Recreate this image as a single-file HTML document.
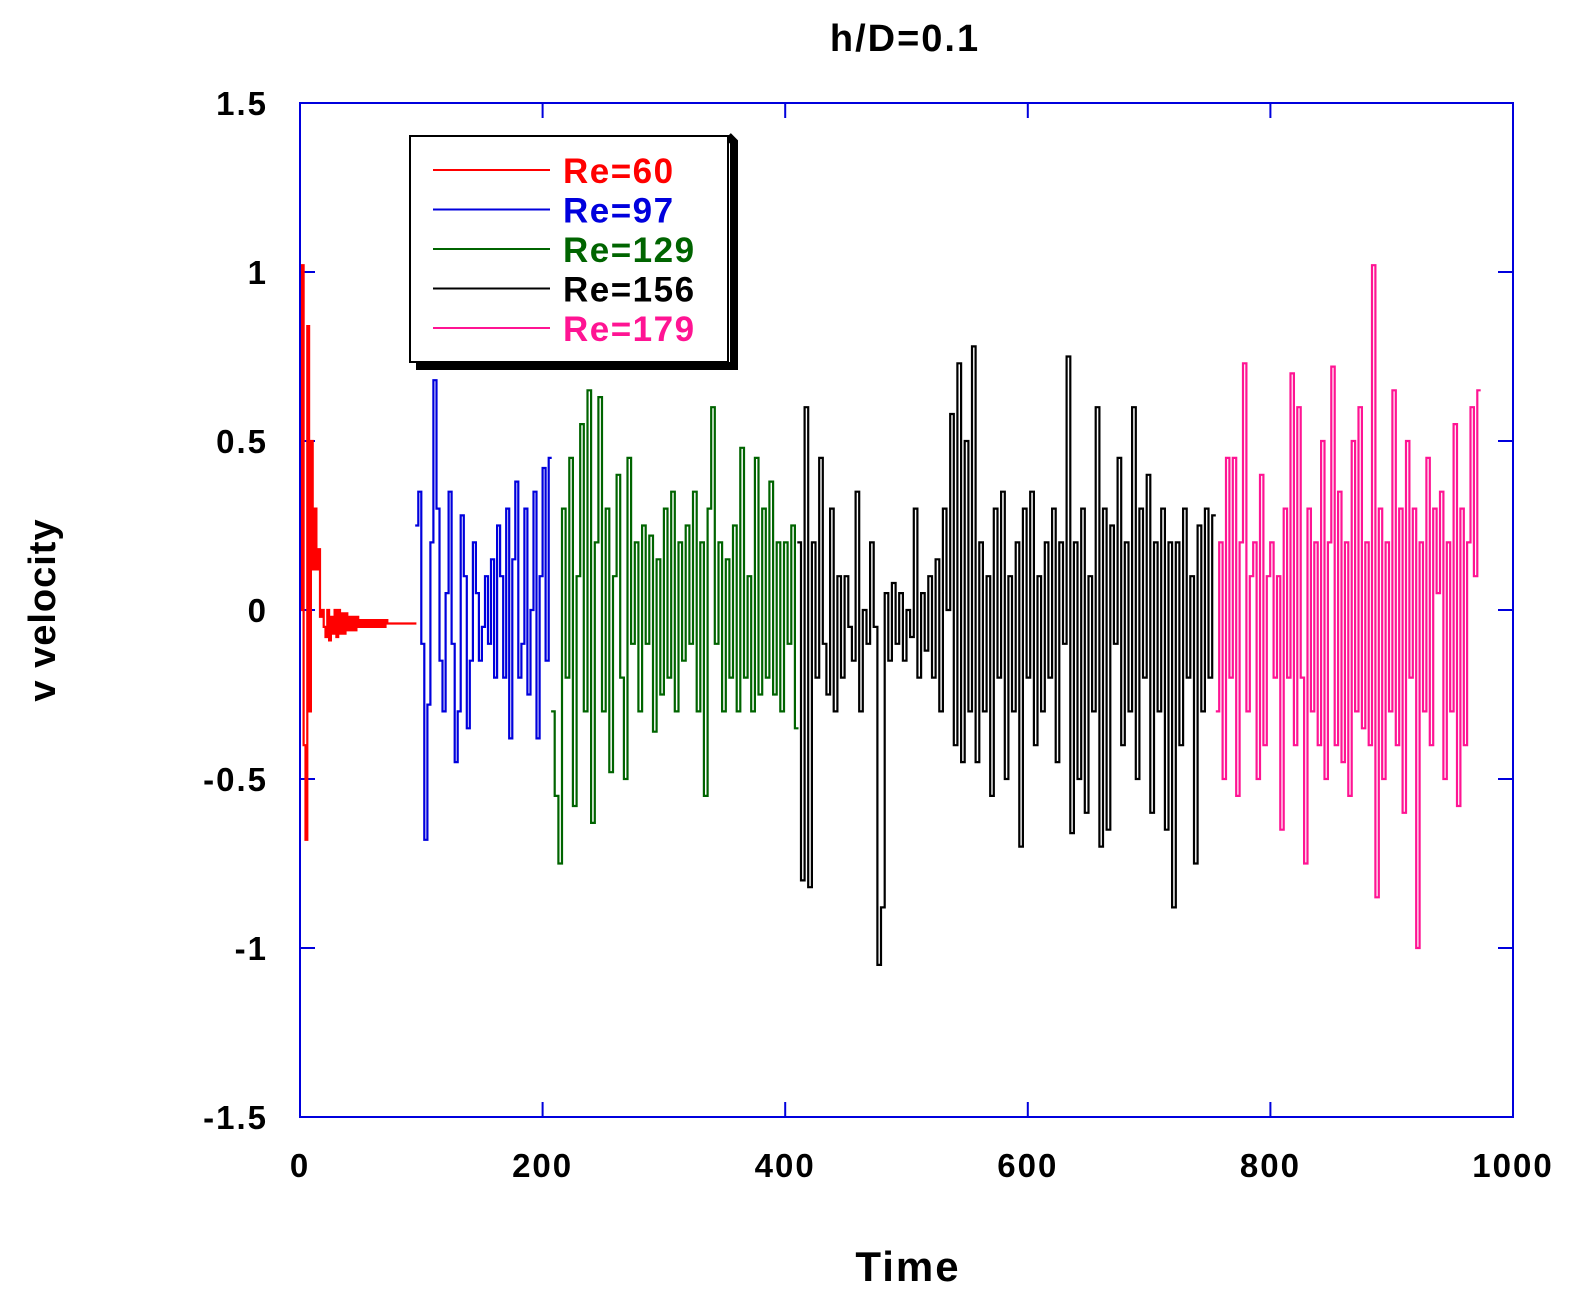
<!DOCTYPE html>
<html><head><meta charset="utf-8"><style>
html,body{margin:0;background:#fff;overflow:hidden;width:1574px;height:1309px;}
svg{display:block;font-family:"Liberation Sans",Arial,sans-serif;font-weight:bold;}
</style></head><body>
<svg id="chart" width="1574" height="1309" viewBox="0 0 1574 1309">
<text x="905" y="51" font-size="38" letter-spacing="2" text-anchor="middle">h/D=0.1</text>
<text x="908" y="1281" font-size="42" letter-spacing="2" text-anchor="middle">Time</text>
<text transform="translate(55,610) rotate(-90)" font-size="38" letter-spacing="1" text-anchor="middle">v velocity</text>
<g id="ticks"></g>
<g id="series"></g>
<rect x="300" y="103" width="1213" height="1014" fill="none" stroke="#0000dd" stroke-width="2"/>
<g id="legend">
<path d="M416 366 L734 366 L734 142 L728 136" fill="none" stroke="#000" stroke-width="8"/>
<rect x="410" y="136" width="318" height="226" fill="#fff" stroke="#000" stroke-width="2"/>
</g>
</svg>
<script>
const xTicks=[0,200,400,600,800,1000];
const yTicks=[-1.5,-1,-0.5,0,0.5,1,1.5];
const seriesNames=["Re=60","Re=97","Re=129","Re=156","Re=179"];
const seriesColors=["#ff0000","#0000dd","#006400","#000000","#ff1493"];
const seriesStart=[0,95,207,410,755];
const seriesStep=[1.5,2.5,3,3,2.8];
const red=[0,1.02,-0.4,-0.68,0.84,-0.3,0.5,0.12,0.3,0.12,0.18,-0.02,0.0,-0.05,-0.08,0.0,-0.09,-0.02,-0.07,0.0,-0.08,0.0,-0.07,-0.01,-0.07,-0.01,-0.06,-0.02,-0.06,-0.02,-0.06,-0.02,-0.05,-0.03,-0.05,-0.03,-0.05,-0.03,-0.05,-0.03,-0.05,-0.03,-0.05,-0.03,-0.05,-0.03,-0.05,-0.03,-0.04,-0.04,-0.04,-0.04,-0.04,-0.04,-0.04,-0.04,-0.04,-0.04,-0.04,-0.04,-0.04,-0.04,-0.04,-0.04];
const blue=[0.25,0.35,-0.1,-0.68,-0.28,0.2,0.68,0.3,-0.15,-0.3,0.05,0.35,-0.1,-0.45,-0.3,0.28,0.1,-0.35,-0.15,0.2,0.05,-0.15,-0.05,0.1,-0.1,0.15,-0.2,0.25,0.1,-0.2,0.3,-0.38,0.15,0.38,-0.2,-0.1,0.3,-0.25,0.0,0.35,-0.38,0.1,0.42,-0.15,0.45];
const green=[-0.3,-0.55,-0.75,0.3,-0.2,0.45,-0.58,0.1,0.55,-0.3,0.65,-0.63,0.2,0.63,-0.3,0.3,-0.48,0.1,0.4,-0.2,-0.5,0.45,-0.1,0.2,-0.3,0.25,-0.1,0.22,-0.36,0.15,-0.25,0.3,-0.2,0.35,-0.3,0.2,-0.15,0.25,-0.1,0.35,-0.3,0.2,-0.55,0.3,0.6,-0.1,0.2,-0.3,0.15,-0.2,0.25,-0.3,0.48,-0.2,0.1,-0.3,0.45,-0.25,0.3,-0.2,0.38,-0.25,0.2,-0.3,0.2,-0.1,0.25,-0.35];
const black=[0.2,-0.8,0.6,-0.82,0.2,-0.2,0.45,-0.1,-0.25,0.3,-0.3,0.1,-0.2,0.1,-0.05,-0.15,0.35,-0.3,0.0,-0.1,0.2,-0.05,-1.05,-0.88,0.05,-0.15,0.08,-0.1,0.05,-0.15,0.0,-0.08,0.3,-0.2,0.05,-0.12,0.1,-0.2,0.15,-0.3,0.3,0.0,0.58,-0.4,0.73,-0.45,0.5,-0.3,0.78,-0.45,0.2,-0.3,0.1,-0.55,0.3,-0.2,0.35,-0.5,0.1,-0.3,0.2,-0.7,0.3,-0.2,0.35,-0.4,0.1,-0.3,0.2,-0.2,0.3,-0.45,0.2,-0.1,0.75,-0.66,0.2,-0.5,0.3,-0.6,0.1,-0.3,0.6,-0.7,0.3,-0.65,0.25,-0.1,0.45,-0.4,0.2,-0.3,0.6,-0.5,0.3,-0.2,0.4,-0.6,0.2,-0.3,0.3,-0.65,0.2,-0.88,0.2,-0.4,0.3,-0.2,0.1,-0.75,0.25,-0.3,0.3,-0.2,0.28];
const pink=[-0.3,0.2,-0.5,0.45,-0.2,0.45,-0.55,0.2,0.73,-0.3,0.1,0.2,-0.5,0.4,-0.4,0.1,0.2,-0.2,0.1,-0.65,0.3,-0.2,0.7,-0.4,0.6,-0.2,-0.75,0.3,-0.3,0.2,-0.4,0.5,-0.5,0.2,0.72,-0.4,0.35,-0.45,0.2,-0.55,0.5,-0.3,0.6,-0.35,0.2,-0.4,1.02,-0.85,0.3,-0.5,0.2,-0.3,0.65,-0.4,0.3,-0.6,0.5,-0.2,0.3,-1.0,0.2,-0.3,0.45,-0.4,0.3,0.05,0.35,-0.5,0.2,-0.3,0.55,-0.58,0.3,-0.4,0.2,0.6,0.1,0.65];
const seriesValues=[red,blue,green,black,pink];

const NS="http://www.w3.org/2000/svg";
const X0=300,X1=1513,Y0=1117,Y1=103;
function xs(t){return X0+(t/1000)*(X1-X0);}
function ys(v){return Y0-((v+1.5)/3)*(Y0-Y1);}
function mk(tag,attrs,parent){const e=document.createElementNS(NS,tag);for(const k in attrs)e.setAttribute(k,attrs[k]);parent.appendChild(e);return e;}
const tg=document.getElementById('ticks');
xTicks.forEach(t=>{
  const x=xs(t);
  let l=mk('line',{x1:x,x2:x,y1:Y0,y2:Y0-15,stroke:'#0000dd','stroke-width':2},tg);
  
  
  l=mk('line',{x1:x,x2:x,y1:Y1,y2:Y1+15,stroke:'#0000dd','stroke-width':2},tg);
  
  
  const tx=mk('text',{x:x,y:1177,'font-size':33,'letter-spacing':2,'text-anchor':'middle'},tg);
  tx.textContent=t;
  
  
});
yTicks.forEach(v=>{
  const y=ys(v);
  let l=mk('line',{x1:X0,x2:X0+15,y1:y,y2:y,stroke:'#0000dd','stroke-width':2},tg);
  
  
  l=mk('line',{x1:X1,x2:X1-15,y1:y,y2:y,stroke:'#0000dd','stroke-width':2},tg);
  
  
  const tx=mk('text',{x:268,y:y+12,'font-size':33,'letter-spacing':2,'text-anchor':'end'},tg);
  tx.textContent=v;
  
  
});
const sg=document.getElementById('series');
seriesValues.forEach((vals,i)=>{
  let d='';
  vals.forEach((v,j)=>{
    const x=xs(seriesStart[i]+j*seriesStep[i]);const y=ys(v);
    if(j===0)d+='M'+x.toFixed(1)+' '+y.toFixed(1);
    else d+=' V'+y.toFixed(1);
    d+=' H'+xs(seriesStart[i]+(j+1)*seriesStep[i]).toFixed(1);
  });
  const p=mk('path',{d:d,fill:'none',stroke:seriesColors[i],'stroke-width':2.2},sg);
  
  
});
const lg=document.getElementById('legend');
seriesNames.forEach((n,i)=>{
  const y=170+i*39.5;
  const l=mk('line',{x1:433,x2:550,y1:y,y2:y,stroke:seriesColors[i],'stroke-width':2},lg);
  
  
  const t=mk('text',{x:563,y:y+13,'font-size':35,'letter-spacing':1.5,fill:seriesColors[i]},lg);
  t.textContent=n;
  
  
});
</script>
</body></html>
